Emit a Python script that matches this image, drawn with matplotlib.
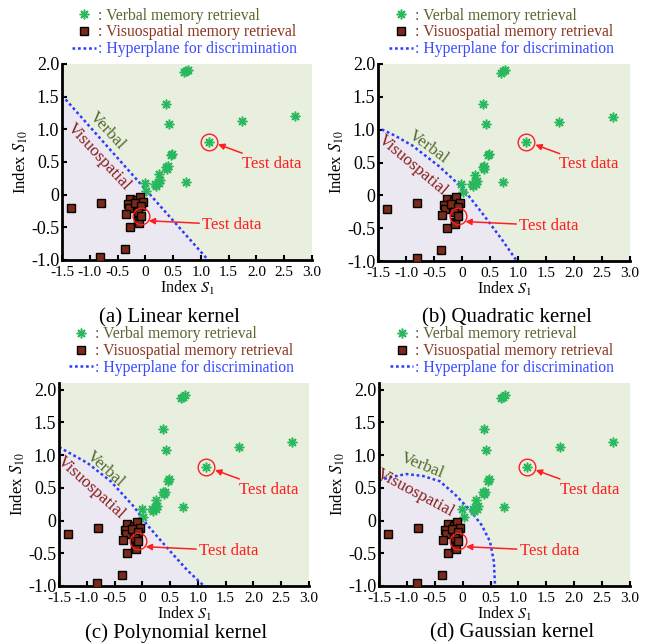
import numpy as np
import matplotlib
matplotlib.use("Agg")
import matplotlib.pyplot as plt
from matplotlib.lines import Line2D

plt.rcParams['font.family'] = ['Liberation Serif', 'DejaVu Serif']
plt.rcParams['mathtext.fontset'] = 'stix'
plt.rcParams['axes.unicode_minus'] = False

# --- data ---
verbal_x = [0.69, 0.73, 0.76, 0.38, 0.42, 1.74, 2.70, 0.46, 0.48, 0.39, 0.37, 0.40,
            0.24, 0.23, 0.20, 0.25, 0.18, 0.27, -0.01, 0.02, 0.74]
verbal_y = [1.87, 1.89, 1.91, 1.39, 1.08, 1.12, 1.20, 0.61, 0.63, 0.40, 0.43, 0.44,
            0.31, 0.20, 0.14, 0.18, 0.17, 0.22, 0.18, 0.05, 0.20]
visuo_x = [-1.34, -0.80, -0.27, -0.32, -0.30, -0.35, -0.27, -0.37, -0.81, -0.15,
           -0.10, -0.04, -0.19, -0.08, -0.14, -0.13, -0.12]
visuo_y = [-0.21, -0.12, -0.06, -0.14, -0.21, -0.30, -0.49, -0.83, -0.96, -0.08,
           -0.03, -0.11, -0.13, -0.18, -0.26, -0.40, -0.44]
test_verbal = (1.15, 0.81)
test_visuo = (-0.08, -0.32)

# decision boundaries
bnd_linear_x = [-1.5, 1.13]
bnd_linear_y = [1.52, -1.0]
bnd_quad_x = [-1.52, -1.2, -0.89, -0.42, 0.0, 0.36, 0.71, 0.98]
bnd_quad_y = [1.04, 0.91, 0.76, 0.45, 0.12, -0.27, -0.67, -1.0]
bnd_poly_x = [-1.5, -0.99, -0.57, -0.15, 0.09, 0.45, 0.81, 1.11]
bnd_poly_y = [1.12, 0.88, 0.60, 0.21, -0.07, -0.42, -0.76, -1.0]
bnd_gauss_x = [-1.5, -1.31, -1.01, -0.71, -0.41, -0.14, 0.13, 0.34, 0.49, 0.56, 0.58]
bnd_gauss_y = [0.61, 0.66, 0.71, 0.68, 0.60, 0.40, 0.16, -0.07, -0.32, -0.63, -1.0]

titles = ['(a) Linear kernel', '(b) Quadratic kernel',
          '(c) Polynomial kernel', '(d) Gaussian kernel']
boundaries = [(bnd_linear_x, bnd_linear_y), (bnd_quad_x, bnd_quad_y),
              (bnd_poly_x, bnd_poly_y), (bnd_gauss_x, bnd_gauss_y)]
# label placement: (verbal x, y, rot), (visuo x, y, rot)
region_labels = [
    ((-0.69, 0.98, -47), (-0.84, 0.58, -47)),
    ((-0.60, 0.73, -36), (-0.88, 0.45, -40)),
    ((-0.66, 0.78, -42), (-0.92, 0.50, -42)),
    ((-0.72, 0.83, -22), (-0.85, 0.42, -28)),
]
xticks = [-1.5, -1.0, -0.5, 0, 0.5, 1.0, 1.5, 2.0, 2.5, 3.0]
xticklabels = ['-1.5', '-1.0', '-0.5', '0', '0.5', '1.0', '1.5', '2.0', '2.5', '3.0']
yticks = [-1.0, -0.5, 0, 0.5, 1.0, 1.5, 2.0]
yticklabels = ['-1.0', '-0.5', '0', '0.5', '1.0', '1.5', '2.0']

GREEN_BG = '#e9efde'
PURPLE_BG = '#ebe8f1'
STAR = '#2ab85e'
SQ = '#7a2a18'
BLUE = '#2b3cff'
RED = '#ff1f1f'
OLIVE = '#55672d'
DARKRED = '#8a1c1c'

fig = plt.figure(figsize=(6.58, 6.43), dpi=100)
positions = [
    [62 / 658, 1 - 260 / 643, 250 / 658, 196 / 643],
    [378 / 658, 1 - 261 / 643, 252 / 658, 197 / 643],
    [59 / 658, 1 - 586 / 643, 250 / 658, 203 / 643],
    [379 / 658, 1 - 586 / 643, 251 / 658, 203 / 643],
]
ytops = [2.0, 2.0, 2.1, 2.1]
title_pos = [(0.258, 1 - 318 / 643), (0.771, 1 - 318 / 643),
             (0.267, 1 - 633 / 643), (0.778, 1 - 633 / 643)]

for i in range(4):
    ax = fig.add_axes(positions[i])
    ax.set_xlim(-1.5, 3.0)
    ax.set_ylim(-1.0, ytops[i])
    ax.set_facecolor(GREEN_BG)
    bx, by = boundaries[i]
    ax.fill(list(bx) + [bx[0]], list(by) + [-1.0], color=PURPLE_BG, lw=0, zorder=0)
    ax.plot(bx, by, color=BLUE, lw=1.8, dashes=(1.1, 1.1), zorder=2)

    ax.plot(verbal_x, verbal_y, ls='none', marker=(8, 2, 0), ms=7, mew=1.1,
            color=STAR, zorder=3)
    ax.plot(visuo_x, visuo_y, ls='none', marker='s', ms=6.3, mew=1.0,
            mfc=SQ, mec='black', zorder=3)
    ax.plot([test_verbal[0]], [test_verbal[1]], ls='none', marker=(8, 2, 0), ms=7,
            mew=1.1, color=STAR, zorder=3)
    ax.plot([test_visuo[0]], [test_visuo[1]], ls='none', marker='s', ms=6.3, mew=1.0,
            mfc=SQ, mec='black', zorder=3)
    for tx, ty in [test_verbal, test_visuo]:
        ax.plot([tx], [ty], ls='none', marker='o', ms=12, mfc='none', mec=RED,
                mew=1.0, zorder=4)

    ax.annotate('Test data', xy=(1.31, 0.77), xytext=(1.74, 0.47),
                fontsize=12, color=RED, va='center', ha='left',
                arrowprops=dict(arrowstyle='-|>', color=RED, lw=1.1,
                                mutation_scale=9, shrinkA=0, shrinkB=0))
    ax.annotate('Test data', xy=(0.06, -0.40), xytext=(1.02, -0.46),
                fontsize=12, color=RED, va='center', ha='left',
                arrowprops=dict(arrowstyle='-|>', color=RED, lw=1.1,
                                mutation_scale=9, shrinkA=0, shrinkB=0))

    (vx, vy, vr), (sx, sy, sr) = region_labels[i]
    ax.text(vx, vy, 'Verbal', color=OLIVE, fontsize=12.5, rotation=vr,
            ha='center', va='center', rotation_mode='anchor', zorder=5)
    ax.text(sx, sy, 'Visuospatial', color=DARKRED, fontsize=12.5, rotation=sr,
            ha='center', va='center', rotation_mode='anchor', zorder=5)

    ax.set_xticks(xticks)
    ax.set_xticklabels(xticklabels)
    ax.set_yticks(yticks)
    ax.set_yticklabels(yticklabels)
    ax.tick_params(direction='in', length=3.5, width=1.5)
    ax.tick_params(axis='x', labelsize=11, pad=4)
    ax.tick_params(axis='y', labelsize=13, pad=2)
    for s in ['top', 'right']:
        ax.spines[s].set_visible(False)
    for s in ['left', 'bottom']:
        ax.spines[s].set_linewidth(2.0)
    ax.set_xlabel(r'Index $S_1$', fontsize=11.5, labelpad=0)
    ax.set_ylabel(r'Index $S_{10}$', fontsize=12, labelpad=1)
    fig.text(title_pos[i][0], title_pos[i][1], titles[i], fontsize=15,
             ha='center', va='center')

    handles = [
        Line2D([], [], ls='none', marker=(8, 2, 0), ms=7, mew=1.1, color=STAR),
        Line2D([], [], ls='none', marker='s', ms=6.3, mew=1.0, mfc=SQ, mec='black'),
        Line2D([], [], color=BLUE, lw=1.8, dashes=(1.1, 1.1)),
    ]
    labels = [': Verbal memory retrieval', ': Visuospatial memory retrieval',
              ': Hyperplane for discrimination']
    leg = ax.legend(handles, labels, loc='lower center', bbox_to_anchor=(0.49, 1.035),
                    frameon=False, fontsize=11.3, handlelength=1.5, handletextpad=0.1,
                    labelspacing=0.05, borderpad=0, borderaxespad=0)
    for t, c in zip(leg.get_texts(), [OLIVE, '#8b3522', '#3a4bff']):
        t.set_color(c)

fig.savefig('out.png', dpi=100)
